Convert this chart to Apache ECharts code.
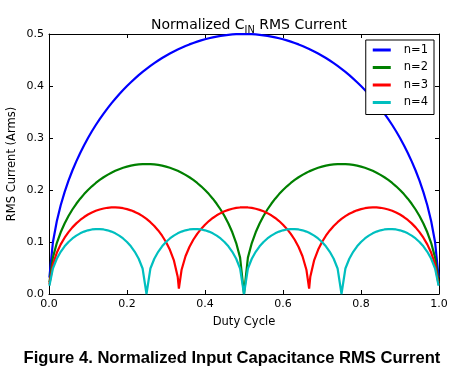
<!DOCTYPE html>
<html><head><meta charset="utf-8">
<script src="https://cdn.jsdelivr.net/npm/echarts@6/dist/echarts.min.js"></script>
<style>html,body{margin:0;padding:0;background:#fff}#c{width:461px;height:374px}</style>
</head><body><div id="c"></div>
<script>
const duty = [0.001,
0.01,0.02,0.03,0.04,0.05,0.06,0.07,0.08,0.09,0.10,0.11,0.12,0.13,0.14,0.15,0.16,0.17,0.18,0.19,0.20,0.21,0.22,0.23,0.24,0.25,0.26,0.27,0.28,0.29,0.30,0.31,0.32,0.33,
0.333,
0.34,0.35,0.36,0.37,0.38,0.39,0.40,0.41,0.42,0.43,0.44,0.45,0.46,0.47,0.48,0.49,0.50,0.51,0.52,0.53,0.54,0.55,0.56,0.57,0.58,0.59,0.60,0.61,0.62,0.63,0.64,0.65,0.66,
0.667,
0.67,0.68,0.69,0.70,0.71,0.72,0.73,0.74,0.75,0.76,0.77,0.78,0.79,0.80,0.81,0.82,0.83,0.84,0.85,0.86,0.87,0.88,0.89,0.90,0.91,0.92,0.93,0.94,0.95,0.96,0.97,0.98,0.99,
0.999];

const n1 = [0.0316,
0.0995,0.14,0.1706,0.196,0.2179,0.2375,0.2551,0.2713,0.2862,0.3,0.3129,0.325,0.3363,0.347,0.3571,0.3666,0.3756,0.3842,0.3923,0.4,0.4073,0.4142,0.4208,0.4271,0.433,0.4386,0.444,0.449,0.4538,0.4583,0.4625,0.4665,0.4702,
0.4713,
0.4737,0.477,0.48,0.4828,0.4854,0.4877,0.4899,0.4918,0.4936,0.4951,0.4964,0.4975,0.4984,0.4991,0.4996,0.4999,0.5,0.4999,0.4996,0.4991,0.4984,0.4975,0.4964,0.4951,0.4936,0.4918,0.4899,0.4877,0.4854,0.4828,0.48,0.477,0.4737,
0.4713,
0.4702,0.4665,0.4625,0.4583,0.4538,0.449,0.444,0.4386,0.433,0.4271,0.4208,0.4142,0.4073,0.4,0.3923,0.3842,0.3756,0.3666,0.3571,0.347,0.3363,0.325,0.3129,0.3,0.2862,0.2713,0.2551,0.2375,0.2179,0.196,0.1706,0.14,0.0995,
0.0316];

const n2 = [0.0223,
0.07,0.098,0.1187,0.1356,0.15,0.1625,0.1735,0.1833,0.1921,0.2,0.2071,0.2135,0.2193,0.2245,0.2291,0.2332,0.2369,0.24,0.2427,0.2449,0.2468,0.2482,0.2492,0.2498,0.25,0.2498,0.2492,0.2482,0.2468,0.2449,0.2427,0.24,0.2369,
0.2358,
0.2332,0.2291,0.2245,0.2193,0.2135,0.2071,0.2,0.1921,0.1833,0.1735,0.1625,0.15,0.1356,0.1187,0.098,0.07,0,0.07,0.098,0.1187,0.1356,0.15,0.1625,0.1735,0.1833,0.1921,0.2,0.2071,0.2135,0.2193,0.2245,0.2291,0.2332,
0.2358,
0.2369,0.24,0.2427,0.2449,0.2468,0.2482,0.2492,0.2498,0.25,0.2498,0.2492,0.2482,0.2468,0.2449,0.2427,0.24,0.2369,0.2332,0.2291,0.2245,0.2193,0.2135,0.2071,0.2,0.1921,0.1833,0.1735,0.1625,0.15,0.1356,0.1187,0.098,0.07,
0.0223];

const n3 = [0.0182,
0.0569,0.0792,0.0954,0.1083,0.119,0.1281,0.1358,0.1424,0.148,0.1528,0.1567,0.16,0.1626,0.1645,0.1658,0.1665,0.1666,0.1661,0.165,0.1633,0.1609,0.1579,0.1542,0.1497,0.1443,0.1381,0.1308,0.1222,0.1121,0.1,0.085,0.0653,0.0332,
0.0105,
0.0467,0.0726,0.0904,0.1043,0.1157,0.1252,0.1333,0.1403,0.1462,0.1513,0.1555,0.159,0.1618,0.1639,0.1655,0.1664,0.1667,0.1664,0.1655,0.1639,0.1618,0.159,0.1555,0.1513,0.1462,0.1403,0.1333,0.1252,0.1157,0.1043,0.0904,0.0726,0.0467,
0.0105,
0.0332,0.0653,0.085,0.1,0.1121,0.1222,0.1308,0.1381,0.1443,0.1497,0.1542,0.1579,0.1609,0.1633,0.165,0.1661,0.1666,0.1665,0.1658,0.1645,0.1626,0.16,0.1567,0.1528,0.148,0.1424,0.1358,0.1281,0.119,0.1083,0.0954,0.0792,0.0569,
0.0182];

const n4 = [0.0158,
0.049,0.0678,0.0812,0.0917,0.1,0.1068,0.1122,0.1166,0.12,0.1225,0.1241,0.1249,0.1249,0.1241,0.1225,0.12,0.1166,0.1122,0.1068,0.1,0.0917,0.0812,0.0678,0.049,0,0.049,0.0678,0.0812,0.0917,0.1,0.1068,0.1122,0.1166,
0.1177,
0.12,0.1225,0.1241,0.1249,0.1249,0.1241,0.1225,0.12,0.1166,0.1122,0.1068,0.1,0.0917,0.0812,0.0678,0.049,0,0.049,0.0678,0.0812,0.0917,0.1,0.1068,0.1122,0.1166,0.12,0.1225,0.1241,0.1249,0.1249,0.1241,0.1225,0.12,
0.1177,
0.1166,0.1122,0.1068,0.1,0.0917,0.0812,0.0678,0.049,0,0.049,0.0678,0.0812,0.0917,0.1,0.1068,0.1122,0.1166,0.12,0.1225,0.1241,0.1249,0.1249,0.1241,0.1225,0.12,0.1166,0.1122,0.1068,0.1,0.0917,0.0812,0.0678,0.049,
0.0158];

const seriesNames = ['n=1','n=2','n=3','n=4'];
const seriesColors = ['#0000ff','#008000','#ff0000','#00bfbf'];
const seriesValues = [n1,n2,n3,n4];

const titleText = 'Normalized C';
const titleSub = 'IN';
const titleRest = ' RMS Current';
const xName = 'Duty Cycle';
const yName = 'RMS Current (Arms)';
const caption = 'Figure 4. Normalized Input Capacitance RMS Current';

const FONT = 'DejaVu Sans';
const chart = echarts.init(document.getElementById('c'), null, {renderer:'canvas'});

const tickFmt = v => v.toFixed(1);
const axisCommon = {
  axisLine:{show:true, onZero:false, lineStyle:{color:'#000', width:1}},
  axisTick:{show:true, inside:true, length:4, lineStyle:{color:'#000', width:1}},
  splitLine:{show:false}
};

chart.setOption({
  animation:false,
  backgroundColor:'#fff',
  title:[{
    text:'{a|'+titleText+'}{s|'+titleSub+'}{a|'+titleRest+'}',
    left:244, textAlign:'center', top:10,
    textStyle:{fontWeight:'normal', rich:{
      a:{fontFamily:FONT, fontSize:14, fontWeight:'normal', color:'#000', verticalAlign:'bottom', lineHeight:17},
      s:{fontFamily:FONT, fontSize:9.8, fontWeight:'normal', color:'#000', verticalAlign:'bottom', lineHeight:12, padding:[0,0,-3,0]}
    }}
  },{
    text:caption,
    left:227, textAlign:'center', top:345,
    textStyle:{fontFamily:'Liberation Sans', fontWeight:'bold', fontSize:16.6, color:'#000'}
  }],
  legend:{
    orient:'vertical',
    right:27, top:40,
    backgroundColor:'#fff',
    borderColor:'#000', borderWidth:1, borderRadius:0,
    padding:[3,6,5,7],
    itemWidth:18, itemHeight:3, itemGap:3.5,
    icon:'rect',
    textStyle:{fontFamily:FONT, fontSize:11.5, color:'#000', lineHeight:14, padding:[0,0,0,8]},
    data:seriesNames
  },
  grid:{left:49, right:22, top:34, bottom:80, containLabel:false, outerBoundsMode:'none'},
  xAxis:[Object.assign({
    type:'value', min:0, max:1, interval:0.2, position:'bottom',
    name:xName, nameLocation:'middle', nameGap:22,
    nameTextStyle:{fontFamily:FONT, fontSize:11.5, color:'#000'},
    axisLabel:{fontFamily:FONT, fontSize:11, color:'#000', margin:5, formatter:tickFmt}
  }, axisCommon),
  Object.assign({
    type:'value', min:0, max:1, interval:0.2, position:'top',
    axisLabel:{show:false}
  }, axisCommon)],
  yAxis:[Object.assign({
    type:'value', min:0, max:0.5, interval:0.1, position:'left',
    name:yName, nameLocation:'middle', nameGap:31, nameRotate:90, nameMoveOverlap:false,
    nameTextStyle:{fontFamily:FONT, fontSize:11.5, color:'#000'},
    axisLabel:{fontFamily:FONT, fontSize:11, color:'#000', margin:5, formatter:tickFmt}
  }, axisCommon),
  Object.assign({
    type:'value', min:0, max:0.5, interval:0.1, position:'right',
    axisLabel:{show:false}
  }, axisCommon)],
  series: seriesNames.map((nm,i)=>({
    name:nm, type:'line', xAxisIndex:0, yAxisIndex:0,
    showSymbol:false, symbol:'none', smooth:false,
    color:seriesColors[i],
    lineStyle:{color:seriesColors[i], width:2.2},
    data: duty.map((d,k)=>[d, seriesValues[i][k]])
  }))
});
</script></body></html>
